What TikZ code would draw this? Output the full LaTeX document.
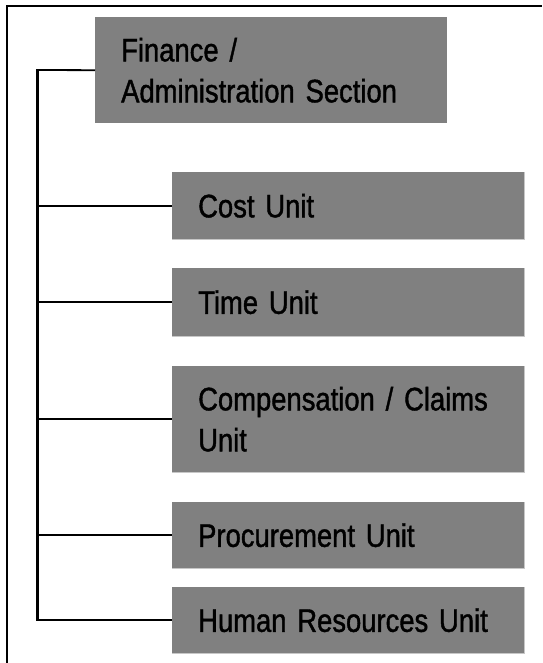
\documentclass[tikz,border=0pt]{standalone}
\usepackage{fontspec}
\setmainfont{Liberation Sans}[FakeStretch=0.843, FakeBold=1.2, WordSpace=0.8]
\begin{document}
\begin{tikzpicture}[x=1pt,y=-1pt,
  unitbox/.style={fill=boxgray, anchor=north west, inner xsep=26pt, inner ysep=0pt,
    text width=300pt, align=left, text=black,
    font=\fontsize{32.5}{41}\selectfont},
  shade edge/.style={draw=black!22, line width=1pt},
  link/.style={draw=black, line width=1.8pt},
  spine/.style={draw=black, line width=2.2pt}]
\definecolor{boxgray}{RGB}{128,128,128}
\useasboundingbox (0,0) rectangle (542,663);
% frame round the chart
\draw[line width=1.8pt] (7.3,663) -- (7.3,6) -- (542,6);
% section and units
\node[unitbox, minimum height=106pt] (fin) at (95,17) {Finance /\\Administration Section};
\node[unitbox, minimum height=67pt] (cost) at (172,172) {Cost Unit};
\node[unitbox, minimum height=68pt] (time) at (172,268) {Time Unit};
\node[unitbox, minimum height=106pt] (comp) at (172,366) {Compensation / Claims\\Unit};
\node[unitbox, minimum height=66pt] (proc) at (172,502) {Procurement Unit};
\node[unitbox, minimum height=66pt] (hr) at (172,587) {Human Resources Unit};
% light edge on the right and lower sides of each unit
\foreach \b in {cost,time,comp,proc,hr}
  \draw[shade edge] ([xshift=0.5pt]\b.north east) -- ([xshift=0.5pt,yshift=-0.5pt]\b.south east) -- ([yshift=-0.5pt]\b.south west);
% connectors
\coordinate (top) at (37.5,70);
\coordinate (bot) at (37.5,620);
\draw[spine] ([yshift=0.9pt]top) -- ([yshift=-0.9pt]bot);
\draw[link] (top) -- (fin.west);
\foreach \b in {cost,time,comp,proc,hr}
  \draw[link] (37.5,0 |- \b.west) -- (\b.west);
\end{tikzpicture}
\end{document}
